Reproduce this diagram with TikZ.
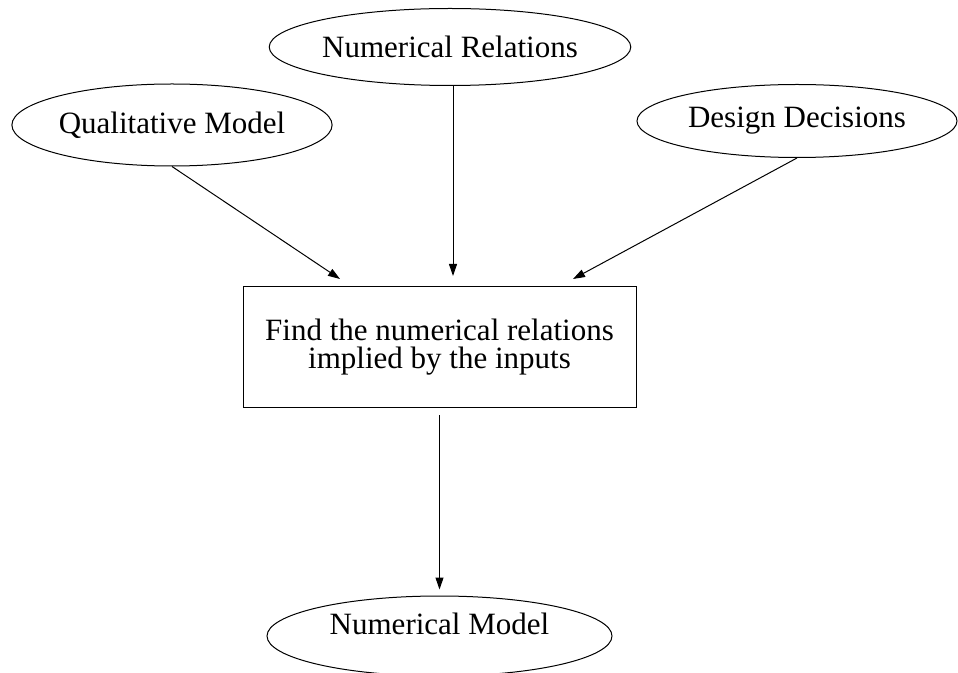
\documentclass[tikz,border=0pt]{standalone}
\usepackage{fontspec}
\setmainfont{Liberation Serif}
\usetikzlibrary{shapes.geometric,arrows.meta}

\begin{document}
\begin{tikzpicture}[x=0.5pt,y=-0.5pt,
  oval/.style={draw, ellipse, inner sep=0pt, line width=0.5pt, font=\fontsize{15.5}{18}\selectfont},
  task/.style={draw, rectangle, line width=0.5pt, align=center, font=\fontsize{15.5}{14}\selectfont},
  flow/.style={-{Triangle[length=6pt,width=4pt]}, line width=0.5pt}]
\useasboundingbox (0,0) rectangle (958,673);

% Inputs
\node[oval, minimum width=160pt, minimum height=41pt] (qual) at (172,125) {Qualitative Model};
\node[oval, minimum width=155pt, minimum height=38.5pt] (numrel) at (450,47) {Numerical Relations};
\node[oval, minimum width=160pt, minimum height=36.5pt] (design) at (797,121) {Design Decisions};

% Task box
\node[task, minimum width=196.5pt, minimum height=60.5pt] (find) at (439.5,347.5) {Find the numerical relations\\implied by the inputs};

% Output
\node[oval, minimum width=172.5pt, minimum height=40pt, text depth=12pt] (model) at (439.5,636) {Numerical Model};

% Arrows into the box
\coordinate (qin) at (340,279);
\coordinate (rin) at (453,276);
\coordinate (din) at (573,279);
\draw[flow] (qual.south) -- (qin);
\draw[flow] (numrel.south -| rin) -- (rin);
\draw[flow] (design.south) -- (din);

% Arrow to the output
\draw[flow, shorten <=3.5pt, shorten >=3pt] (find.south) -- (model.north);
\end{tikzpicture}
\end{document}
